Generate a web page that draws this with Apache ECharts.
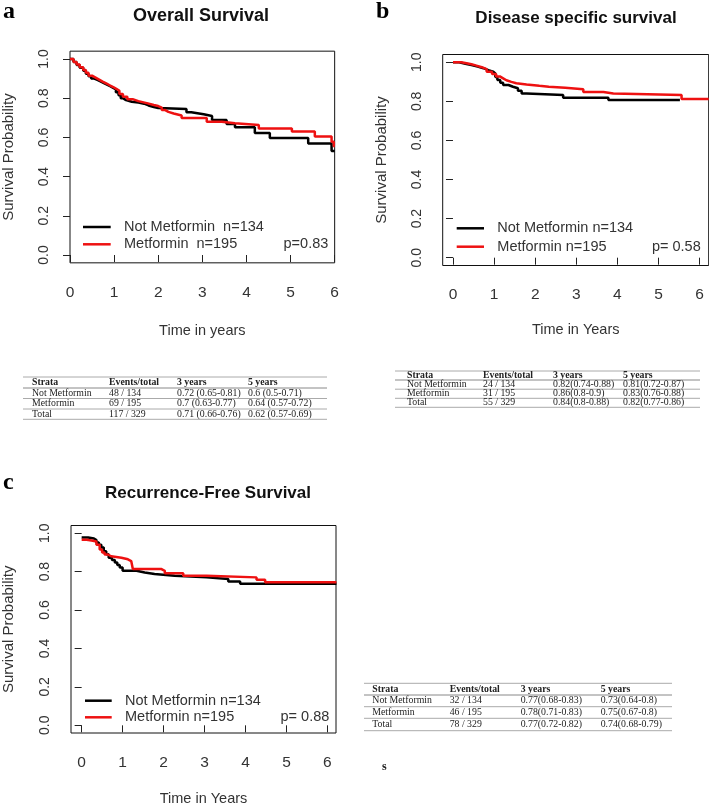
<!DOCTYPE html>
<html><head><meta charset="utf-8">
<script src="https://cdn.jsdelivr.net/npm/echarts@6/dist/echarts.min.js"></script>
<style>html,body{margin:0;padding:0;background:#fff}#c{width:709px;height:807px}</style>
</head><body><div id="c"></div><script>
// ---------- DATA ----------
const xTickValues = [0, 1, 2, 3, 4, 5, 6];
const yTickValues = [0, 0.2, 0.4, 0.6, 0.8, 1.0];
const panelLetters = ['a', 'b', 'c'];
const panelTitles = ['Overall Survival', 'Disease specific survival', 'Recurrence-Free Survival'];
const xAxisNames = ['Time in years', 'Time in Years', 'Time in Years'];
const yAxisName = 'Survival Probability';
const legendLabelsA = ['Not Metformin  n=134', 'Metformin  n=195'];
const legendLabelsBC = ['Not Metformin n=134', 'Metformin n=195'];
const pValues = ['p=0.83', 'p= 0.58', 'p= 0.88'];

// Panel a: Overall survival
const osNotTimes = [0, 0.08, 0.15, 0.22, 0.3, 0.36, 0.42, 0.48, 0.55, 0.62, 0.7, 0.78, 0.85, 0.92, 0.98, 1.04, 1.1, 1.15, 1.2, 1.27, 1.4, 1.55, 1.68, 1.78, 1.9, 2.0, 2.64, 2.75, 3.03, 3.22, 3.55, 3.74, 4.19, 4.53, 5.40, 5.93, 6.0];
const osNotSurv  = [1.0, 0.985, 0.97, 0.955, 0.94, 0.925, 0.912, 0.9, 0.893, 0.885, 0.876, 0.868, 0.86, 0.852, 0.845, 0.83, 0.815, 0.8, 0.79, 0.782, 0.778, 0.772, 0.763, 0.755, 0.75, 0.745, 0.728, 0.718, 0.709, 0.689, 0.668, 0.652, 0.622, 0.597, 0.569, 0.53, 0.53];
const osMetTimes = [0, 0.08, 0.15, 0.22, 0.3, 0.36, 0.42, 0.5, 0.58, 0.66, 0.74, 0.82, 0.9, 0.98, 1.05, 1.12, 1.2, 1.3, 1.42, 1.55, 1.74, 1.9, 2.0, 2.08, 2.15, 2.23, 2.35, 2.53, 3.10, 3.44, 3.74, 4.28, 5.03, 5.55, 5.93, 5.98, 6.0];
const osMetSurv  = [1.0, 0.985, 0.972, 0.958, 0.944, 0.93, 0.915, 0.905, 0.895, 0.885, 0.876, 0.866, 0.857, 0.848, 0.838, 0.822, 0.808, 0.795, 0.785, 0.775, 0.765, 0.76, 0.752, 0.74, 0.73, 0.722, 0.712, 0.699, 0.68, 0.672, 0.663, 0.646, 0.63, 0.604, 0.578, 0.555, 0.555];

// Panel b: Disease specific survival
const dssNotTimes = [0, 0.15, 0.3, 0.45, 0.6, 0.74, 0.86, 0.98, 1.03, 1.08, 1.15, 1.22, 1.35, 1.46, 1.58, 1.67, 1.79, 2.68, 3.78, 5.52];
const dssNotSurv  = [1.0, 0.993, 0.986, 0.978, 0.97, 0.96, 0.952, 0.943, 0.925, 0.909, 0.895, 0.884, 0.875, 0.867, 0.855, 0.841, 0.833, 0.819, 0.807, 0.807];
const dssMetTimes = [0, 0.2, 0.33, 0.45, 0.57, 0.7, 0.82, 0.95, 1.05, 1.14, 1.22, 1.3, 1.42, 1.54, 1.79, 2.1, 2.33, 2.73, 3.17, 3.66, 3.9, 5.56, 6.22];
const dssMetSurv  = [1.0, 0.995, 0.99, 0.983, 0.975, 0.965, 0.952, 0.94, 0.928, 0.918, 0.908, 0.9, 0.893, 0.887, 0.88, 0.875, 0.87, 0.862, 0.848, 0.84, 0.833, 0.812, 0.812];

// Panel c: Recurrence-free survival
const rfsNotTimes = [0, 0.16, 0.3, 0.36, 0.42, 0.48, 0.54, 0.6, 0.66, 0.74, 0.81, 0.87, 0.93, 1.0, 1.34, 1.54, 1.78, 2.27, 3.05, 3.58, 3.87, 6.22];
const rfsNotSurv  = [0.978, 0.972, 0.964, 0.952, 0.94, 0.925, 0.906, 0.89, 0.872, 0.86, 0.847, 0.834, 0.821, 0.804, 0.795, 0.787, 0.778, 0.77, 0.762, 0.748, 0.737, 0.737];
const rfsMetTimes = [0, 0.12, 0.24, 0.36, 0.44, 0.5, 0.56, 0.64, 0.72, 0.97, 1.13, 1.21, 1.25, 1.95, 2.03, 2.48, 3.05, 4.27, 4.48, 6.22];
const rfsMetSurv  = [0.966, 0.962, 0.957, 0.94, 0.915, 0.9, 0.889, 0.88, 0.872, 0.864, 0.855, 0.847, 0.813, 0.804, 0.792, 0.779, 0.77, 0.758, 0.744, 0.744];

// Tables
const tableHeader = ['Strata', 'Events/total', '3 years', '5 years'];
const tableA = [
  ['Not Metformin', '48 / 134', '0.72 (0.65-0.81)', '0.6 (0.5-0.71)'],
  ['Metformin', '69 / 195', '0.7 (0.63-0.77)', '0.64 (0.57-0.72)'],
  ['Total', '117 / 329', '0.71 (0.66-0.76)', '0.62 (0.57-0.69)']
];
const tableB = [
  ['Not Metformin', '24 / 134', '0.82(0.74-0.88)', '0.81(0.72-0.87)'],
  ['Metformin', '31 / 195', '0.86(0.8-0.9)', '0.83(0.76-0.88)'],
  ['Total', '55 / 329', '0.84(0.8-0.88)', '0.82(0.77-0.86)']
];
const tableC = [
  ['Not Metformin', '32 / 134', '0.77(0.68-0.83)', '0.73(0.64-0.8)'],
  ['Metformin', '46 / 195', '0.78(0.71-0.83)', '0.75(0.67-0.8)'],
  ['Total', '78 / 329', '0.77(0.72-0.82)', '0.74(0.68-0.79)']
];
const strayNote = 's';

// ---------- LAYOUT ----------
const SANS = '"Liberation Sans", Arial, sans-serif';
const SERIF = '"Liberation Serif", "Times New Roman", serif';
const BLACK = '#000000';
const RED = '#ee1111';

const layout = [
  { grid: { left: 69.33, top: 51.16, width: 265.34, height: 211.68 }, xmin: 0, xmax: 6,
    letter: [3, 0], title: [201, 16, 18], yNameGap: 54, xNameGap: 61, xLabMargin: 22,
    legLine: [83, 110.7], legY: [227, 244.3], legTextX: 124, pRight: 328.3,
    table: { left: 23, right: 327, lines: [377, 388, 398.5, 409, 419.3], cols: [32, 109, 177, 248] } },
  { grid: { left: 442.7, top: 54.5, width: 266, height: 211 }, xmin: -0.25, xmax: 6.22,
    letter: [376, 0], title: [576, 18, 17], yNameGap: 53, xNameGap: 57, xLabMargin: 21,
    legLine: [456.7, 484], legY: [228.3, 246.7], legTextX: 497.3, pRight: 700.7,
    table: { left: 395, right: 700, lines: [371, 380, 389.2, 398.3, 407.3], cols: [407, 483, 553, 623] } },
  { grid: { left: 71, top: 525.5, width: 265, height: 211.35 }, xmin: -0.26, xmax: 6.21,
    letter: [3, 471], title: [208, 493, 17], yNameGap: 55, xNameGap: 58, xLabMargin: 22,
    legLine: [85, 111.7], legY: [700.7, 717.3], legTextX: 125, pRight: 329.3,
    table: { left: 364, right: 672, lines: [683.3, 695, 706.7, 718.3, 730.7], cols: [372.3, 449.7, 520.7, 600.7] } }
];

const seriesData = [
  [[osNotTimes, osNotSurv], [osMetTimes, osMetSurv]],
  [[dssNotTimes, dssNotSurv], [dssMetTimes, dssMetSurv]],
  [[rfsNotTimes, rfsNotSurv], [rfsMetTimes, rfsMetSurv]]
];
const tables = [tableA, tableB, tableC];

const zip = (t, v) => t.map((x, i) => [x, v[i]]);

const grids = [], xAxes = [], yAxes = [], series = [], graphics = [];
layout.forEach((L, i) => {
  grids.push(Object.assign({ show: true, borderColor: '#111', borderWidth: 1, backgroundColor: 'transparent', containLabel: false }, L.grid));
  xAxes.push({
    type: 'value', gridIndex: i, min: L.xmin, max: L.xmax,
    name: xAxisNames[i], nameLocation: 'middle', nameGap: L.xNameGap,
    nameTextStyle: { fontFamily: SANS, fontSize: 14.5, color: '#333' },
    axisLine: { show: false },
    axisTick: { show: true, inside: false, length: 7, customValues: xTickValues, lineStyle: { color: '#222' } },
    axisLabel: { show: true, customValues: xTickValues, margin: L.xLabMargin, fontFamily: SANS, fontSize: 15.5, color: '#333' },
    splitLine: { show: false }
  });
  yAxes.push({
    type: 'value', gridIndex: i, min: -0.04, max: 1.04,
    name: yAxisName, nameLocation: 'middle', nameGap: L.yNameGap,
    nameTextStyle: { fontFamily: SANS, fontSize: 15, color: '#333' },
    axisLine: { show: false },
    axisTick: { show: true, inside: false, length: 7, customValues: yTickValues, lineStyle: { color: '#222' } },
    axisLabel: { show: true, customValues: yTickValues, rotate: 90, margin: 19, fontFamily: SANS, fontSize: 14, color: '#333',
      formatter: v => Number(v).toFixed(1) },
    splitLine: { show: false }
  });
  [BLACK, RED].forEach((col, k) => {
    const d = seriesData[i][k];
    series.push({
      type: 'line', xAxisIndex: i, yAxisIndex: i, step: 'end', showSymbol: false, symbol: 'none',
      clip: true, data: zip(d[0], d[1]), lineStyle: { color: col, width: 2.5 }, itemStyle: { color: col },
      z: 3 + k, silent: true
    });
  });

  // panel letter & title
  graphics.push({ type: 'text', style: { text: panelLetters[i], x: L.letter[0], y: L.letter[1], verticalAlign: 'top', font: 'bold 24px ' + SERIF, fill: '#000' } });
  graphics.push({ type: 'text', style: { text: panelTitles[i], x: L.title[0], y: L.title[1], align: 'center', verticalAlign: 'middle', font: 'bold ' + L.title[2] + 'px ' + SANS, fill: '#111' } });

  // legend
  const labs = i === 0 ? legendLabelsA : legendLabelsBC;
  [BLACK, RED].forEach((col, k) => {
    graphics.push({ type: 'line', shape: { x1: L.legLine[0], y1: L.legY[k], x2: L.legLine[1], y2: L.legY[k] }, style: { stroke: col, lineWidth: 2.5 } });
    graphics.push({ type: 'text', style: { text: labs[k], x: L.legTextX, y: L.legY[k], verticalAlign: 'middle', font: '14.5px ' + SANS, fill: '#333' } });
  });
  graphics.push({ type: 'text', style: { text: pValues[i], x: L.pRight, y: L.legY[1], align: 'right', verticalAlign: 'middle', font: '14.5px ' + SANS, fill: '#333' } });

  // table
  const T = L.table;
  T.lines.forEach((ly, li) => {
    graphics.push({ type: 'line', shape: { x1: T.left, y1: ly, x2: T.right, y2: ly }, style: { stroke: li === 1 ? '#888' : '#aaa', lineWidth: 1 } });
  });
  const rows = [tableHeader].concat(tables[i]);
  rows.forEach((row, r) => {
    const cy = (T.lines[r] + T.lines[r + 1]) / 2;
    row.forEach((cell, c) => {
      graphics.push({ type: 'text', style: { text: cell, x: T.cols[c], y: cy, verticalAlign: 'middle',
        font: (r === 0 ? 'bold ' : '') + '9.8px ' + SERIF, fill: '#222' } });
    });
  });
});
graphics.push({ type: 'text', style: { text: strayNote, x: 382, y: 767, verticalAlign: 'middle', font: 'bold 12px ' + SERIF, fill: '#222' } });

const chart = echarts.init(document.getElementById('c'), null, { renderer: 'canvas' });
chart.setOption({
  animation: false,
  backgroundColor: '#ffffff',
  grid: grids, xAxis: xAxes, yAxis: yAxes, series: series,
  graphic: graphics
});
</script></body></html>
